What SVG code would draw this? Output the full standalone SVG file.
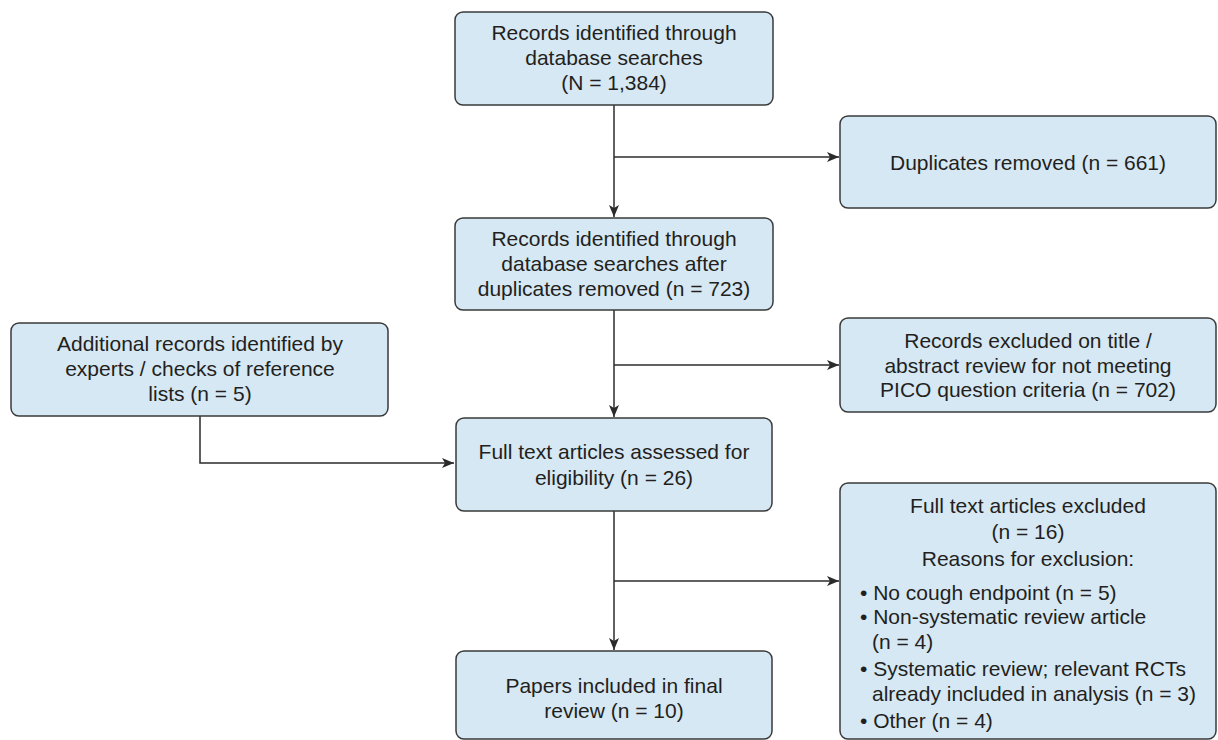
<svg xmlns="http://www.w3.org/2000/svg" width="1218" height="740" viewBox="0 0 1218 740">
<style>
.box{fill:#d6e8f4;stroke:#3a3a3a;stroke-width:1.5}
.t{font-family:"Liberation Sans",Arial,sans-serif;font-size:21px;fill:#231f20;text-anchor:middle}
.l{font-family:"Liberation Sans",Arial,sans-serif;font-size:21px;fill:#231f20}
.c{fill:none;stroke:#2b2b2b;stroke-width:1.5}
</style>
<defs>
<marker id="ah" viewBox="0 0 12 10" refX="12" refY="5" markerWidth="12" markerHeight="10" markerUnits="userSpaceOnUse" orient="auto">
<path d="M0,0 L12,5 L0,10 L3,5 Z" fill="#2b2b2b"/>
</marker>
</defs>
<rect width="1218" height="740" fill="#ffffff"/>
<g id="connectors">
<path class="c" d="M614,105 V217" marker-end="url(#ah)"/>
<path class="c" d="M614,157 H839" marker-end="url(#ah)"/>
<path class="c" d="M614,310 V417" marker-end="url(#ah)"/>
<path class="c" d="M614,365 H839" marker-end="url(#ah)"/>
<path class="c" d="M200,416 V463 H454" marker-end="url(#ah)"/>
<path class="c" d="M614,511 V650" marker-end="url(#ah)"/>
<path class="c" d="M614,581 H839" marker-end="url(#ah)"/>
</g>
<g id="n1">
<rect class="box" x="455" y="12" width="318" height="93" rx="8"/>
<text class="t" x="614" y="40">Records identified through</text>
<text class="t" x="614" y="65">database searches</text>
<text class="t" x="614" y="90">(N = 1,384)</text>
</g>
<g id="n2">
<rect class="box" x="840" y="116" width="376" height="92" rx="8"/>
<text class="t" x="1028" y="170">Duplicates removed (n = 661)</text>
</g>
<g id="n3">
<rect class="box" x="455" y="218" width="318" height="92" rx="8"/>
<text class="t" x="614" y="246">Records identified through</text>
<text class="t" x="614" y="271">database searches after</text>
<text class="t" x="614" y="296">duplicates removed (n = 723)</text>
</g>
<g id="n4">
<rect class="box" x="11" y="323" width="377" height="93" rx="8"/>
<text class="t" x="200" y="351">Additional records identified by</text>
<text class="t" x="200" y="376">experts / checks of reference</text>
<text class="t" x="200" y="401">lists (n = 5)</text>
</g>
<g id="n5">
<rect class="box" x="840" y="318" width="376" height="94" rx="8"/>
<text class="t" x="1028" y="348">Records excluded on title /</text>
<text class="t" x="1028" y="373">abstract review for not meeting</text>
<text class="t" x="1028" y="397">PICO question criteria (n = 702)</text>
</g>
<g id="n6">
<rect class="box" x="456" y="418" width="316" height="93" rx="8"/>
<text class="t" x="614" y="459">Full text articles assessed for</text>
<text class="t" x="614" y="485">eligibility (n = 26)</text>
</g>
<g id="n7">
<rect class="box" x="840" y="483" width="376" height="256" rx="8"/>
<text class="t" x="1028" y="513">Full text articles excluded</text>
<text class="t" x="1028" y="539">(n = 16)</text>
<text class="t" x="1028" y="566">Reasons for exclusion:</text>
<text class="l" x="860" y="600">• No cough endpoint (n = 5)</text>
<text class="l" x="860" y="624">• Non-systematic review article</text>
<text class="l" x="872" y="649">(n = 4)</text>
<text class="l" x="860" y="676">• Systematic review; relevant RCTs</text>
<text class="l" x="872" y="701">already included in analysis (n = 3)</text>
<text class="l" x="860" y="728">• Other (n = 4)</text>
</g>
<g id="n8">
<rect class="box" x="456" y="651" width="316" height="88" rx="8"/>
<text class="t" x="614" y="693">Papers included in final</text>
<text class="t" x="614" y="718">review (n = 10)</text>
</g>
</svg>
